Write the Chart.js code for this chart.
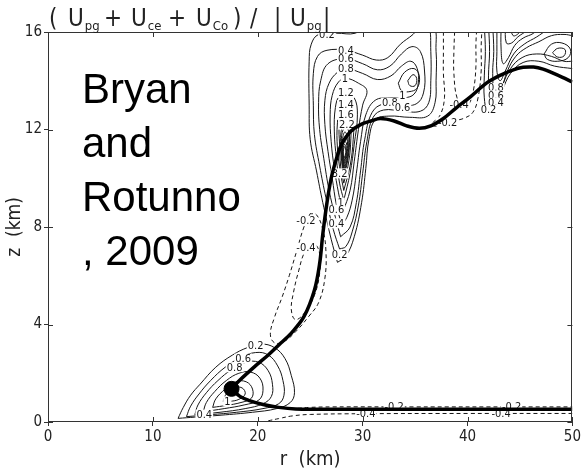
<!DOCTYPE html>
<html><head><meta charset="utf-8">
<script src="https://cdn.jsdelivr.net/npm/chart.js@4.4.1/dist/chart.umd.min.js"></script>
<style>html,body{margin:0;padding:0;background:#fff}#wrap{width:583px;height:473px}</style>
</head><body><div id="wrap"><canvas id="c" width="583" height="473"></canvas></div>
<script>
// ---------- axis ticks ----------
const rTicks = [0, 10, 20, 30, 40, 50];
const zTicks = [0, 4, 8, 12, 16];

// ---------- trajectory (r, z in km) ----------
const dotPoint = [17.5, 1.36];
const trajLower = [[17.5,1.36],[18.3,1.05],[19.2,0.88],[20.5,0.72],[22,0.6],[23.6,0.53],[26,0.52],[35,0.52],[50,0.52]];
const trajUpper = [[17.5,1.36],[18.3,1.72],[19.7,2.27],[21,2.75],[22.2,3.24],[23.2,3.65],[24.4,4.32],[25.4,5.41],[25.9,6.5],[26.2,7.7],[26.6,9.0],[27.0,10.0],[27.5,10.8],[28.0,11.4],[28.8,11.9],[29.8,12.2],[30.8,12.35],[31.7,12.45],[33,12.35],[34.2,12.15],[35.4,12.05],[36.5,12.15],[37.7,12.45],[38.9,12.88],[40.3,13.35],[41.8,13.9],[43,14.2],[44.3,14.44],[45.3,14.55],[46.3,14.56],[47.2,14.48],[48.1,14.32],[49,14.15],[50,13.95]];

// ---------- lower-left positive contours ----------
const low02 = [[12.4,0.15],[12.9,0.6],[13.6,1.1],[14.5,1.55],[16,2.25],[17.6,2.75],[19,3.05],[20.3,3.2],[21.6,3.05],[22.6,2.6],[23.2,1.9],[23.5,1.2],[23.1,0.8],[21.8,0.55],[19.5,0.4],[16.5,0.28],[14,0.2],[12.4,0.15]];
const low04 = [[13.2,0.22],[13.6,0.65],[14.4,1.15],[15.5,1.7],[16.9,2.25],[18.4,2.65],[19.8,2.85],[21.0,2.75],[21.9,2.3],[22.4,1.7],[22.5,1.1],[22.0,0.75],[20.5,0.55],[18,0.4],[15.5,0.3],[13.2,0.22]];
const low06 = [[14.0,0.3],[14.3,0.7],[15.1,1.2],[16.2,1.7],[17.5,2.15],[18.9,2.45],[20.1,2.45],[21.0,2.1],[21.4,1.55],[21.3,1.05],[20.5,0.75],[18.8,0.55],[16.4,0.4],[14.0,0.3]];
const low08 = [[14.8,0.42],[15.1,0.8],[15.9,1.25],[17.0,1.7],[18.2,2.0],[19.3,2.05],[20.2,1.8],[20.5,1.3],[20.1,0.9],[18.7,0.7],[16.8,0.55],[14.8,0.42]];
const low10 = [[15.7,0.6],[16.0,0.95],[16.9,1.35],[17.9,1.65],[18.9,1.65],[19.5,1.35],[19.4,0.98],[18.4,0.8],[17,0.68],[15.7,0.6]];
const low12 = [[16.7,0.85],[17.0,1.15],[17.7,1.4],[18.5,1.4],[18.8,1.15],[18.2,0.93],[17.4,0.85],[16.7,0.85]];

// ---------- upper tower + lobe contours ----------
const tow02 = [[27.6,6.55],[27.0,7.5],[26.2,9.0],[25.6,10.3],[25.0,11.6],[24.9,13.0],[24.9,14.8],[25.1,15.5],[25.8,15.9],[27.5,15.95],[29.3,15.95],[30.5,16.3],[33,16.6],[36.6,16.3],[37.0,15.2],[37.0,14.0],[36.9,13.1],[36.2,12.55],[34.5,12.5],[32.5,12.55],[31.2,12.4],[30.6,11.6],[30.3,10.4],[29.9,9.0],[29.2,7.6],[28.4,6.8],[27.6,6.55]];
const tow04 = [[27.8,7.1],[27.2,7.9],[26.5,9.2],[25.9,10.5],[25.4,11.8],[25.3,13.0],[25.3,14.3],[25.7,15.0],[26.6,15.25],[28.4,15.25],[30.0,15.05],[31.3,14.85],[32.4,14.95],[33.6,15.5],[34.8,15.9],[35.7,16.3],[36.3,16.3],[36.5,15.2],[36.5,14.0],[36.3,13.1],[35.5,12.75],[33.8,12.75],[32.0,12.8],[31.0,12.5],[30.4,11.5],[30.0,10.2],[29.6,8.9],[29.0,7.8],[28.4,7.2],[27.8,7.1]];
const tow06 = [[27.9,7.6],[27.4,8.4],[26.8,9.5],[26.3,10.8],[25.9,12.0],[25.8,13.1],[26.0,14.0],[26.7,14.7],[28.4,14.9],[30.0,14.7],[31.4,14.45],[32.6,14.6],[33.7,15.1],[34.7,15.4],[35.5,15.2],[35.9,14.4],[35.8,13.5],[35.1,13.05],[33.6,13.0],[32.0,13.05],[30.9,12.7],[30.2,11.6],[29.8,10.3],[29.4,9.0],[28.8,8.0],[27.9,7.6]];
const tow08 = [[28.0,8.1],[27.5,8.9],[27.1,10.0],[26.7,11.1],[26.4,12.2],[26.4,13.2],[26.8,13.9],[27.6,14.35],[28.4,14.5],[30.0,14.3],[31.4,14.05],[32.7,14.2],[33.7,14.6],[34.6,14.8],[35.2,14.5],[35.3,13.9],[34.9,13.45],[34.0,13.3],[32.6,13.3],[31.2,13.2],[30.3,12.6],[29.8,11.5],[29.4,10.2],[29.0,9.1],[28.5,8.4],[28.0,8.1]];
const tow10 = [[28.1,8.6],[27.7,9.4],[27.3,10.4],[27.0,11.5],[26.9,12.6],[27.1,13.4],[27.7,13.95],[28.4,14.1],[29.6,13.9],[30.4,13.6],[30.0,13.0],[29.6,12.0],[29.2,10.7],[28.8,9.5],[28.1,8.6]];
const tow12 = [[28.2,9.1],[27.8,9.8],[27.5,10.8],[27.3,11.9],[27.4,12.9],[27.8,13.4],[28.4,13.5],[29.2,13.3],[29.5,12.6],[29.2,11.4],[28.8,10.2],[28.2,9.1]];
const tow14 = [[28.2,9.5],[27.9,10.2],[27.6,11.2],[27.6,12.3],[27.9,12.9],[28.5,13.0],[29.1,12.6],[29.1,11.6],[28.8,10.5],[28.2,9.5]];
const tow16 = [[28.2,9.8],[27.9,10.5],[27.8,11.4],[27.8,12.2],[28.3,12.65],[28.8,12.3],[28.85,11.4],[28.6,10.5],[28.2,9.8]];
const tow18 = [[28.2,10.05],[28.0,10.7],[27.9,11.5],[28.05,12.1],[28.5,12.25],[28.75,11.7],[28.6,10.8],[28.2,10.05]];
const tow20 = [[28.2,10.18],[28.02,10.8],[27.97,11.5],[28.15,12.0],[28.55,12.05],[28.7,11.6],[28.57,10.85],[28.2,10.18]];
const tow22 = [[28.2,10.3],[28.05,10.9],[28.05,11.5],[28.3,11.9],[28.6,11.6],[28.55,10.9],[28.2,10.3]];
const tow24 = [[28.2,10.42],[28.08,10.95],[28.12,11.5],[28.35,11.7],[28.55,11.5],[28.5,10.95],[28.2,10.42]];
const tow26 = [[28.2,10.55],[28.1,11.0],[28.2,11.5],[28.45,11.45],[28.45,11.0],[28.2,10.55]];
const tow28 = [[28.2,10.68],[28.12,11.05],[28.25,11.4],[28.42,11.25],[28.4,10.95],[28.2,10.68]];
const tow30 = [[28.2,10.8],[28.15,11.1],[28.3,11.3],[28.4,11.05],[28.2,10.8]];
const lobe10 = [[33.4,13.9],[34.0,14.35],[34.9,14.5],[35.4,14.2],[35.2,13.7],[34.4,13.55],[33.7,13.6],[33.4,13.9]];
const lobe12 = [[34.3,14.0],[34.8,14.25],[35.15,14.1],[35.0,13.8],[34.5,13.8],[34.3,14.0]];

// ---------- upper-right positive contours ----------
const ur02 = [[41.6,16.3],[41.7,15.2],[41.6,14.2],[41.6,13.3],[41.9,12.8],[42.6,12.95],[43.3,13.6],[44.1,14.3],[45.3,14.75],[46.8,14.8],[48.3,14.6],[50,14.5]];
const ur04 = [[42.0,16.3],[42.1,15.2],[42.0,14.2],[42.1,13.3],[42.6,13.15],[43.3,13.8],[44.1,14.5],[45.2,14.95],[46.6,15.1],[48.0,15.0],[49.2,14.8],[50,14.8]];
const ur06 = [[42.4,16.3],[42.5,15.2],[42.4,14.3],[42.6,13.5],[43.1,13.55],[43.8,14.4],[44.6,15.0],[45.6,15.35],[46.8,15.6],[48,15.85],[49.2,15.9],[50,15.85]];
const ur08 = [[42.8,16.3],[42.8,15.2],[42.8,14.4],[43.1,14.0],[43.6,14.4],[44.4,15.1],[45.4,15.5],[46.6,15.8],[47.6,16.1],[48.2,16.3]];
const ur10 = [[43.2,16.3],[43.2,15.3],[43.4,14.7],[43.9,14.95],[44.5,15.45],[45.3,15.75],[46.3,15.95],[47.2,16.3]];
const ur12 = [[43.6,16.3],[43.7,15.55],[44.2,15.55],[44.8,15.8],[45.6,16.05],[46.0,16.3]];
const ur14 = [[44.1,16.3],[44.35,15.85],[45.0,16.0],[45.3,16.3]];
const rloop1 = [[47.3,15.1],[48,15.5],[49,15.55],[49.8,15.3],[49.6,14.95],[48.6,14.8],[47.6,14.88],[47.3,15.1]];
const rloop2 = [[48.1,15.15],[48.6,15.33],[49.3,15.28],[49.2,15.02],[48.6,14.97],[48.1,15.15]];

// ---------- negative (dashed) contours ----------
const negL02 = [[25.0,8.55],[24.4,8.0],[23.7,7.0],[23.0,6.0],[22.3,5.1],[21.6,4.3],[21.2,3.6],[21.6,3.25],[22.5,3.3],[23.6,3.7],[24.8,4.3],[25.8,4.9],[26.4,5.9],[26.5,7.0],[26.2,7.9],[25.6,8.5],[25.0,8.55]];
const negL04 = [[25.2,7.3],[24.5,7.0],[23.9,6.2],[23.4,5.3],[23.2,4.6],[23.6,4.2],[24.5,4.5],[25.4,5.2],[25.9,6.1],[25.9,6.9],[25.5,7.3],[25.2,7.3]];
const negR02 = [[37.7,16.3],[37.7,15.2],[37.7,14.3],[37.8,13.3],[37.4,12.6],[36.6,12.2],[37.6,12.15],[38.6,12.35],[39.6,12.45],[40.5,12.7],[41.0,13.3],[41.3,14.4],[41.3,15.4],[41.4,16.3]];
const negR04 = [[38.8,16.3],[38.7,15.2],[38.7,14.3],[39.0,13.3],[39.6,12.95],[40.2,13.1],[40.6,13.7],[40.8,14.6],[40.8,15.5],[40.9,16.3]];
const negB02 = [[23.8,0.56],[25,0.6],[27,0.62],[35,0.62],[45,0.62],[50,0.62]];
const negB04 = [[21.0,0.05],[22,0.14],[23.3,0.25],[25,0.31],[30,0.34],[40,0.35],[50,0.35]];

// ---------- contour labels ----------
const labelText = ["0.2","0.6","0.8","1","0.4",
  "0.2","0.4","0.6","0.8","1","1.2","1.4","1.6","2.2","3.2","1","0.6","0.4","0.2",
  "-0.2","-0.4","0.8","0.6","1","-0.4","-0.2","0.8","0.6","0.4","0.2",
  "-0.2","-0.4","-0.2","-0.4"];
const labelR = [19.8,18.6,17.8,17.1,14.9,
  26.6,28.4,28.4,28.4,28.3,28.4,28.4,28.4,28.5,27.8,27.9,27.5,27.5,27.8,
  24.6,24.6,32.6,33.8,33.8,39.2,38.1,42.7,42.7,42.7,42.0,
  33.0,30.3,44.2,43.2];
const labelZ = [3.15,2.6,2.25,0.85,0.3,
  15.9,15.25,14.9,14.5,14.1,13.5,13.0,12.6,12.2,10.2,9.0,8.7,8.15,6.85,
  8.25,7.15,13.1,12.9,13.4,13.0,12.3,13.7,13.4,13.1,12.8,
  0.64,0.36,0.64,0.36];

const solidContours = [low02,low04,low06,low08,low10,low12,tow02,tow04,tow06,tow08,tow10,tow12,tow14,tow16,tow18,tow20,tow22,tow24,tow26,tow28,tow30,lobe10,lobe12,ur02,ur04,ur06,ur08,ur10,ur12,ur14,rloop1,rloop2];
const dashedContours = [negL02,negL04,negR02,negR04,negB02,negB04];

const FONT = "'Liberation Sans Narrow','DejaVu Sans Condensed','Liberation Sans',sans-serif";
const INK = '#161616';

const toXY = pts => pts.map(p => ({x: p[0], y: p[1]}));
const line = (pts, extra) => Object.assign({
  data: toXY(pts), showLine: true, pointRadius: 0, borderColor: INK, backgroundColor: INK,
  borderWidth: 1, tension: 0.4, fill: false
}, extra || {});

const datasets = [
  {data: toXY([dotPoint]), showLine: false, pointRadius: 7.5, pointBackgroundColor: '#000', pointBorderColor: '#000', borderColor: '#000'},
  line(trajUpper, {borderWidth: 3.5, borderColor: '#000', tension: 0.35}),
  line(trajLower, {borderWidth: 3.5, borderColor: '#000', tension: 0.35}),
  ...solidContours.map(c => line(c)),
  ...dashedContours.map(c => line(c, {borderDash: [4, 3]}))
];

const decor = {
  id: 'decor',
  beforeDatasetDraw(chart, args) {
    if (args.index !== 2) return;
    const {ctx, scales: {x, y}} = chart;
    ctx.save();
    ctx.beginPath();
    ctx.rect(chart.chartArea.left, chart.chartArea.top, chart.chartArea.width, chart.chartArea.height);
    ctx.clip();
    ctx.font = "11px " + FONT;
    ctx.textAlign = 'center'; ctx.textBaseline = 'middle';
    for (let i = 0; i < labelText.length; i++) {
      const px = x.getPixelForValue(labelR[i]), py = y.getPixelForValue(labelZ[i]);
      const w = ctx.measureText(labelText[i]).width;
      ctx.fillStyle = '#fff'; ctx.fillRect(px - w / 2 - 1, py - 5, w + 2, 10);
      ctx.fillStyle = INK; ctx.fillText(labelText[i], px, py + 0.5);
    }
    ctx.restore();
  },
  afterDraw(chart) {
    const {ctx, chartArea: a, scales: {x, y}} = chart;
    ctx.save();
    ctx.strokeStyle = '#333'; ctx.lineWidth = 1;
    ctx.strokeRect(Math.round(a.left) + 0.5, Math.round(a.top) + 0.5, Math.round(a.width) - 1, Math.round(a.height) - 1);
    ctx.beginPath();
    rTicks.forEach(v => {
      const px = Math.round(x.getPixelForValue(v)) + 0.5;
      ctx.moveTo(px, a.bottom); ctx.lineTo(px, a.bottom - 5);
      ctx.moveTo(px, a.top); ctx.lineTo(px, a.top + 5);
    });
    zTicks.forEach(v => {
      const py = Math.round(y.getPixelForValue(v)) + 0.5;
      ctx.moveTo(a.left, py); ctx.lineTo(a.left + 5, py);
      ctx.moveTo(a.right, py); ctx.lineTo(a.right - 5, py);
    });
    ctx.stroke();
    const parts = [["(",""],["U","pg"],["+",""],["U","ce"],["+",""],["U","Co"],[")",""],["/",""],["|",""],["U","pg"],["|",""]];
    const px = [49, 68, 104, 131, 168, 196, 233, 250, 274, 290, 323];
    ctx.fillStyle = '#222'; ctx.textAlign = 'left'; ctx.textBaseline = 'alphabetic';
    parts.forEach((p, i) => {
      ctx.font = "24px " + FONT;
      ctx.fillText(p[0], px[i], 26);
      if (p[1]) {
        const w = ctx.measureText(p[0]).width;
        ctx.font = "13px " + FONT;
        ctx.fillText(p[1], px[i] + w + 1, 30);
      }
    });
    ctx.fillStyle = '#000';
    ctx.font = "42px 'Liberation Sans', Arial, sans-serif";
    ["Bryan", "and", "Rotunno", ", 2009"].forEach((t, i) => ctx.fillText(t, 82, 103 + i * 54));
    ctx.restore();
  }
};

new Chart(document.getElementById('c'), {
  type: 'scatter',
  data: {datasets},
  plugins: [decor],
  options: {
    responsive: false, animation: false, events: [],
    layout: {padding: {top: 32, right: 6, left: 0, bottom: 0}, autoPadding: false},
    plugins: {legend: {display: false}, tooltip: {enabled: false}, title: {display: false}},
    scales: {
      x: {
        type: 'linear', min: 0, max: 50,
        afterFit: s => { s.height = 51; },
        afterBuildTicks: s => { s.ticks = rTicks.map(v => ({value: v})); },
        grid: {display: true, drawOnChartArea: false, drawTicks: true, tickLength: 4, color: '#333', lineWidth: 1},
        border: {display: false},
        ticks: {padding: 2, color: '#222', font: {family: FONT, size: 15}, maxRotation: 0, autoSkip: false},
        title: {display: true, text: 'r  (km)', color: '#222', font: {family: FONT, size: 20}, padding: {top: 0, bottom: 1}}
      },
      y: {
        type: 'linear', min: 0, max: 16,
        afterFit: s => { s.width = 48; },
        afterBuildTicks: s => { s.ticks = zTicks.map(v => ({value: v})); },
        grid: {display: true, drawOnChartArea: false, drawTicks: true, tickLength: 4, color: '#333', lineWidth: 1},
        border: {display: false},
        ticks: {padding: 2, color: '#222', font: {family: FONT, size: 15}, autoSkip: false},
        title: {display: true, text: 'z  (km)', color: '#222', font: {family: FONT, size: 19}, padding: {top: 4, bottom: 0}}
      }
    }
  }
});
</script></body></html>
